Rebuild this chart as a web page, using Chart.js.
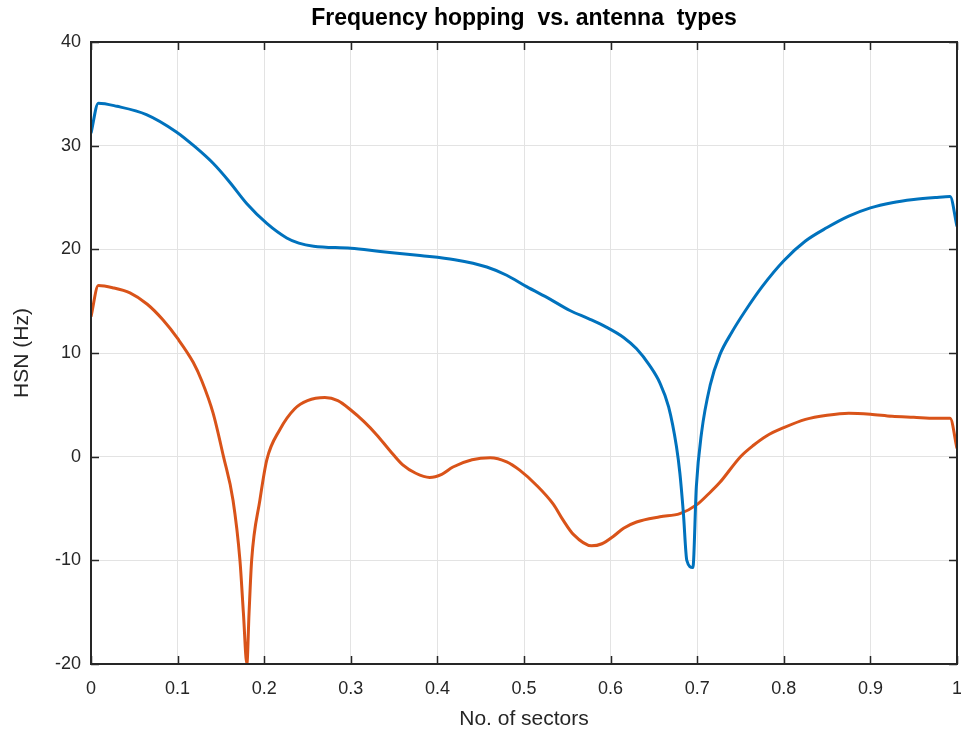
<!DOCTYPE html>
<html>
<head>
<meta charset="utf-8">
<script src="https://cdn.jsdelivr.net/npm/chart.js@4"></script>
<style>
  html, body { margin: 0; padding: 0; background: #fff; }
  canvas { display: block; }
</style>
</head>
<body>
<canvas id="hopChart" width="961" height="732"></canvas>
<script>
// Frequency hopping vs. antenna types

const blueX = [0, 0.0085, 0.03, 0.064, 0.099, 0.12, 0.141, 0.16, 0.18, 0.203, 0.226, 0.24, 0.257, 0.3,
  0.334, 0.38, 0.42, 0.457, 0.48, 0.503, 0.53, 0.553, 0.575, 0.595, 0.615, 0.63, 0.645, 0.657,
  0.667, 0.676, 0.68, 0.684, 0.688, 0.695, 0.699, 0.705, 0.715, 0.726, 0.74, 0.755, 0.775, 0.8, 0.825,
  0.85, 0.875, 0.9, 0.925, 0.95, 0.975, 0.992, 1];
const blueY = [31.2, 34.1, 33.8, 33.0, 31.3, 29.9, 28.3, 26.5, 24.4, 22.5, 21.1, 20.6, 20.3, 20.1,
  19.8, 19.4, 19.0, 18.3, 17.5, 16.4, 15.2, 14.1, 13.3, 12.5, 11.5, 10.4, 8.8, 7.1,
  4.8, 1.0, -1.6, -5.4, -10.0, -10.7, -2.9, 2.3, 6.9, 9.8, 12.0, 14.0, 16.4, 18.9, 20.8,
  22.1, 23.2, 24.0, 24.5, 24.8, 25.0, 25.1, 22.2];

const orangeX = [0, 0.0085, 0.025, 0.045, 0.065, 0.083, 0.1, 0.118, 0.128, 0.141, 0.153, 0.164, 0.172,
  0.176, 0.18, 0.1825, 0.1855, 0.195, 0.203, 0.218, 0.235, 0.25, 0.27, 0.285, 0.3, 0.315, 0.33,
  0.345, 0.36, 0.375, 0.391, 0.405, 0.418, 0.44, 0.461, 0.48, 0.495, 0.515, 0.534, 0.545, 0.557, 0.578,
  0.59, 0.603, 0.615, 0.63, 0.657, 0.68, 0.7, 0.713, 0.726, 0.75, 0.765, 0.78, 0.8, 0.825, 0.85,
  0.875, 0.9, 0.925, 0.95, 0.975, 0.992, 1];
const orangeY = [13.5, 16.5, 16.3, 15.8, 14.7, 13.2, 11.4, 9.1, 7.3, 4.2, 0, -4.2, -10.0,
  -15.1, -20, -15.1, -10.0, -4.2, -0.3, 2.6, 4.6, 5.4, 5.7, 5.4, 4.5, 3.4, 2.1,
  0.6, -0.8, -1.6, -2.0, -1.7, -1.0, -0.3, -0.1, -0.5, -1.3, -2.8, -4.6, -6.1, -7.5, -8.6,
  -8.4, -7.7, -6.9, -6.3, -5.8, -5.5, -4.6, -3.6, -2.5, 0, 1.1, 2.0, 2.8, 3.6, 4.0,
  4.2, 4.1, 3.9, 3.8, 3.7, 3.7, 0.8];

const chartTitle = 'Frequency hopping  vs. antenna  types';
const xTitle = 'No. of sectors';
const yTitle = 'HSN (Hz)';

const fontFamily = "'Liberation Sans', Arial, Helvetica, sans-serif";
const axisColor = '#262626';

const toPoints = (xs, ys) => xs.map((x, i) => ({ x: x, y: ys[i] }));

// box around the plot, inward tick marks and the title centred over the plot
const boxPlugin = {
    id: 'boxPlugin',
    afterDatasetsDraw(chart) {
        const { ctx, chartArea: a, scales } = chart;
        ctx.save();
        ctx.strokeStyle = axisColor;
        ctx.lineWidth = 1.5;
        ctx.beginPath();
        scales.x.ticks.forEach(t => {
            const px = Math.round(scales.x.getPixelForValue(t.value)) + 0.5;
            ctx.moveTo(px, a.bottom); ctx.lineTo(px, a.bottom - 8);
            ctx.moveTo(px, a.top); ctx.lineTo(px, a.top + 8);
        });
        scales.y.ticks.forEach(t => {
            const py = Math.round(scales.y.getPixelForValue(t.value)) + 0.5;
            ctx.moveTo(a.left, py); ctx.lineTo(a.left + 8, py);
            ctx.moveTo(a.right, py); ctx.lineTo(a.right - 8, py);
        });
        ctx.stroke();
        ctx.lineWidth = 2;
        ctx.strokeRect(a.left, a.top, a.right - a.left, a.bottom - a.top);

        ctx.fillStyle = '#000';
        ctx.font = 'bold 23px ' + fontFamily;
        ctx.textAlign = 'center';
        ctx.textBaseline = 'middle';
        ctx.fillText(chartTitle, (a.left + a.right) / 2, 19);
        ctx.restore();
    }
};

const ctx = document.getElementById('hopChart').getContext('2d');
new Chart(ctx, {
    type: 'line',
    data: {
        datasets: [{
            data: toPoints(blueX, blueY),
            borderColor: '#0072BD',
            borderWidth: 3,
            pointRadius: 0,
            cubicInterpolationMode: 'monotone',
            fill: false
        }, {
            data: toPoints(orangeX, orangeY),
            borderColor: '#D95319',
            borderWidth: 3,
            pointRadius: 0,
            cubicInterpolationMode: 'monotone',
            fill: false
        }]
    },
    options: {
        responsive: false,
        animation: false,
        layout: { padding: { left: 0, right: 4, top: 42, bottom: 0 } },
        plugins: {
            legend: { display: false },
            tooltip: { enabled: false },
            title: { display: false }
        },
        scales: {
            x: {
                type: 'linear',
                min: 0,
                max: 1,
                ticks: {
                    stepSize: 0.1,
                    color: axisColor,
                    font: { family: fontFamily, size: 18 },
                    padding: 14,
                    maxRotation: 0,
                    callback: v => String(Number(v.toFixed(1)))
                },
                grid: { color: '#e3e3e3', drawTicks: false },
                border: { display: false },
                title: { display: true, text: xTitle, color: axisColor, font: { family: fontFamily, size: 21 }, padding: { top: 0, bottom: 0 } },
                afterFit: scale => {
                    scale.height = 68;
                    scale.paddingLeft = 0;
                    scale.paddingRight = 0;
                }
            },
            y: {
                min: -20,
                max: 40,
                ticks: { stepSize: 10, color: axisColor, font: { family: fontFamily, size: 18 }, padding: 10 },
                grid: { color: '#e3e3e3', drawTicks: false },
                border: { display: false },
                title: { display: true, text: yTitle, color: axisColor, font: { family: fontFamily, size: 21 }, padding: { top: 10, bottom: 0 } },
                afterFit: scale => {
                    scale.width = 91;
                    scale.paddingTop = 0;
                    scale.paddingBottom = 0;
                }
            }
        }
    },
    plugins: [boxPlugin]
});
</script>
</body>
</html>
